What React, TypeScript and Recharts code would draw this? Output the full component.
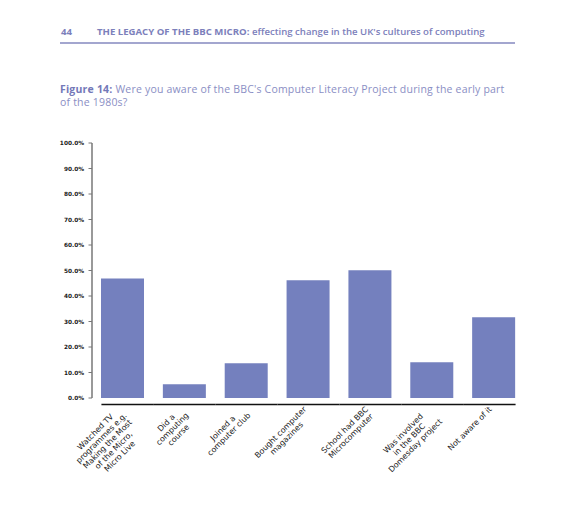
import React from "react";
import { BarChart, Bar, XAxis, YAxis } from "recharts";

const categories = [
  "Watched TV programmes e.g. Making the Most of the Micro, Micro Live",
  "Did a computing course",
  "Joined a computer club",
  "Bought computer magazines",
  "School had BBC Microcomputer",
  "Was involved in the BBC Domesday project",
  "Not aware of it",
];
const tickLines = [
  ["Watched TV", "programmes e.g.", "Making the Most", "of the Micro,", "Micro Live"],
  ["Did a", "computing", "course"],
  ["Joined a", "computer club"],
  ["Bought computer", "magazines"],
  ["School had BBC", "Microcomputer"],
  ["Was involved", "in the BBC", "Domesday project"],
  ["Not aware of it"],
];
const values = [46.9, 5.4, 13.6, 46.2, 50.1, 14.0, 31.7];
const yTicks = [0, 10, 20, 30, 40, 50, 60, 70, 80, 90, 100];

const data = categories.map((c, i) => ({ name: c, value: values[i] }));

const W = 576;
const H = 506;
const MARGIN = { top: 143, right: 51, bottom: 0, left: 32 };
const YAXIS_W = 60;
const XAXIS_H = 108;
const BAR_SIZE = 43;
const PLOT_W = W - MARGIN.left - MARGIN.right - YAXIS_W;
const BAND = PLOT_W / categories.length;

const LABEL_SIZE = 7.9;
const LABEL_FONT = `${LABEL_SIZE}px 'DejaVu Sans'`;
let ctx: CanvasRenderingContext2D | null = null;
function measure(t: string): number {
  if (!ctx) {
    const c = document.createElement("canvas");
    ctx = c.getContext("2d");
  }
  if (!ctx) return t.length * 4.6;
  ctx.font = LABEL_FONT;
  return ctx.measureText(t).width;
}

const XTick = (props: any) => {
  const { x, y, index } = props;
  const lines = tickLines[index] || [];
  const maxW = Math.max(...lines.map(measure));
  const cx = -(maxW / 2 + 5);
  const ly = y + 6.5;
  const n = categories.length;
  const x1 = index === 0 ? x - BAR_SIZE / 2 : x - BAND / 2;
  const x2 = index === n - 1 ? x + BAR_SIZE / 2 : x + BAND / 2;
  return (
    <g>
      <line x1={x1} x2={x2} y1={ly} y2={ly} stroke="#111" strokeWidth={1.6} />
      <g transform={`translate(${x},${ly}) rotate(-45)`}>
        {lines.map((l, i) => (
          <text
            key={i}
            x={cx}
            y={2.5 + i * 8.6}
            textAnchor="middle"
            fontFamily="'DejaVu Sans'"
            fontSize={LABEL_SIZE}
            fill="#222"
          >
            {l}
          </text>
        ))}
      </g>
    </g>
  );
};

export default function App() {
  return (
    <div
      style={{
        position: "absolute",
        left: 0,
        top: 0,
        width: W,
        height: H,
        background: "#fff",
        overflow: "hidden",
      }}
    >
      <div
        style={{
          position: "absolute",
          left: 61,
          top: 26,
          fontFamily: "'Open Sans'",
          fontSize: 9.6,
          fontWeight: 700,
          color: "#7c80bb",
          whiteSpace: "nowrap",
          lineHeight: "12px",
        }}
      >
        <span>44</span>
        <span style={{ position: "absolute", left: 36 }}>
          THE LEGACY OF THE BBC MICRO:{" "}
          <span style={{ fontWeight: 600 }}>effecting change in the UK's cultures of computing</span>
        </span>
      </div>
      <div
        style={{
          position: "absolute",
          left: 60,
          top: 42,
          width: 455,
          height: 1.5,
          background: "#a3a6cf",
        }}
      />
      <div
        style={{
          position: "absolute",
          left: 60,
          top: 83,
          width: 480,
          fontFamily: "'Open Sans'",
          fontSize: 10.5,
          letterSpacing: 0.2,
          color: "#8a8ec4",
          lineHeight: "12.6px",
          whiteSpace: "nowrap",
        }}
      >
        <div>
          <span style={{ fontWeight: 700, color: "#7378b8" }}>Figure 14:</span> Were you aware of the
          BBC's Computer Literacy Project during the early part
        </div>
        <div>of the 1980s?</div>
      </div>
      <div style={{ position: "absolute", left: 0, top: 0 }}>
        <BarChart width={W} height={H} data={data} margin={MARGIN}>
          <YAxis
            width={YAXIS_W}
            domain={[0, 100]}
            ticks={yTicks}
            interval={0}
            tickFormatter={(v: number) => v.toFixed(1) + "%"}
            axisLine={{ stroke: "#777", strokeWidth: 1.5 }}
            tickLine={{ stroke: "#777", strokeWidth: 1 }}
            tickSize={3.5}
            tickMargin={4.5}
            tick={{ fontFamily: "'DejaVu Sans'", fontWeight: 700, fontSize: 5.8, fill: "#1a1a1a" }}
          />
          <XAxis
            dataKey="name"
            height={XAXIS_H}
            interval={0}
            axisLine={false}
            tickLine={false}
            tickSize={0}
            tickMargin={0}
            tick={<XTick />}
          />
          <Bar dataKey="value" fill="#7480be" barSize={BAR_SIZE} isAnimationActive={false} />
        </BarChart>
      </div>
    </div>
  );
}
